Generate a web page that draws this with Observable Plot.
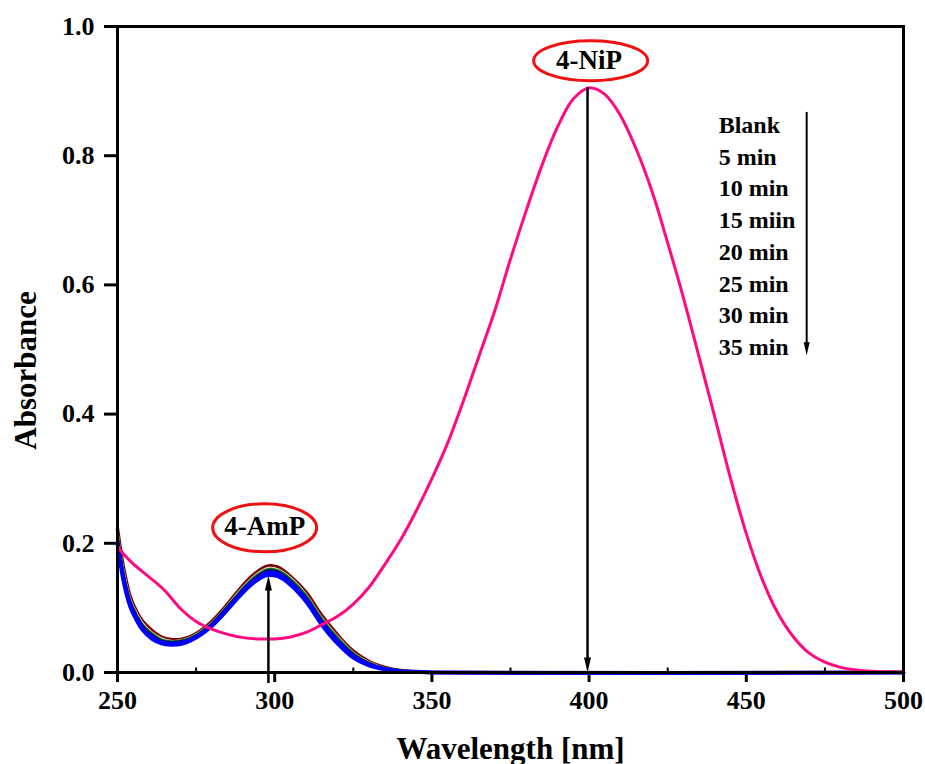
<!DOCTYPE html>
<html>
<head>
<meta charset="utf-8">
<script src="https://cdn.jsdelivr.net/npm/d3@7"></script>
<script src="https://cdn.jsdelivr.net/npm/@observablehq/plot@0.6"></script>
<style>
  html, body { margin: 0; padding: 0; background: #fff; }
</style>
</head>
<body>
<div id="chart"></div>
<script>
// ---------- data ----------
const xTicks = [250, 300, 350, 400, 450, 500];
const xMinorTicks = [275, 325, 375, 425, 475];
const yTicks = [0, 0.2, 0.4, 0.6, 0.8, 1.0];

// Blank (4-nitrophenol) spectrum
const blankWavelength = [250,252,255,260,265,270,275,280,285,290,295,300,305,310,315,320,325,330,335,340,345,350,355,360,365,370,375,380,385,390,395,400,405,410,415,420,425,430,435,440,445,450,455,460,465,470,475,480,485,490,495,500];
const blankAbs = [0.195,0.183,0.168,0.148,0.127,0.099,0.079,0.067,0.059,0.054,0.052,0.052,0.055,0.062,0.074,0.087,0.106,0.132,0.167,0.205,0.250,0.300,0.355,0.420,0.490,0.560,0.640,0.715,0.785,0.845,0.888,0.905,0.895,0.862,0.810,0.745,0.665,0.580,0.488,0.395,0.300,0.215,0.145,0.092,0.055,0.030,0.016,0.008,0.004,0.002,0.001,0.001];

// Reaction-time spectra (4-aminophenol)
const ampWavelength = [250,252,254,256,258,261,264,267,270,273,276,280,284,288,292,296,298,301,305,310,315,320,325,330,335,340,345,350,500];
const amp5  = [0.222,0.160,0.118,0.095,0.079,0.065,0.055,0.051,0.051,0.055,0.063,0.079,0.100,0.124,0.146,0.161,0.165,0.163,0.149,0.124,0.088,0.058,0.033,0.017,0.008,0.003,0.001,0,0];
const amp10 = [0.218,0.156,0.115,0.093,0.077,0.062,0.053,0.049,0.050,0.054,0.062,0.077,0.098,0.122,0.143,0.158,0.162,0.160,0.147,0.121,0.085,0.056,0.031,0.016,0.007,0.003,0.001,0,0];
const amp15 = [0.214,0.152,0.112,0.090,0.074,0.060,0.051,0.048,0.049,0.053,0.061,0.076,0.097,0.120,0.141,0.156,0.160,0.158,0.145,0.119,0.083,0.054,0.030,0.015,0.007,0.003,0.001,0,0];
const amp20 = [0.210,0.149,0.110,0.088,0.072,0.058,0.049,0.047,0.048,0.052,0.060,0.075,0.096,0.118,0.139,0.154,0.158,0.156,0.142,0.116,0.080,0.051,0.028,0.014,0.006,0.002,0.001,0,0];
const amp25 = [0.206,0.146,0.107,0.085,0.069,0.055,0.047,0.045,0.046,0.051,0.059,0.074,0.094,0.116,0.137,0.151,0.155,0.153,0.140,0.114,0.078,0.049,0.026,0.013,0.006,0.002,0.001,0,0];
const amp30 = [0.203,0.143,0.105,0.083,0.067,0.053,0.046,0.044,0.045,0.050,0.058,0.073,0.093,0.115,0.135,0.149,0.153,0.151,0.138,0.112,0.076,0.047,0.024,0.012,0.005,0.002,0.001,0,0];
const amp35 = [0.200,0.140,0.103,0.082,0.066,0.052,0.045,0.043,0.044,0.049,0.057,0.072,0.092,0.114,0.134,0.148,0.151,0.149,0.136,0.110,0.074,0.045,0.023,0.011,0.005,0.002,0.001,0,0];

const seriesNames = ["5 min","10 min","15 min","20 min","25 min","30 min","35 min"];
const seriesValues = [amp5, amp10, amp15, amp20, amp25, amp30, amp35];
const seriesColors = ["#800000","#d8d8d8","#008000","#000080","#0000ff","#0000ff","#0000ff"];
const seriesWidths = [3.5, 2, 2.5, 2.5, 3, 3, 4];

const legendLabels = ["Blank","5 min","10 min","15 miin","20 min","25 min","30 min","35 min"];

// ---------- build tables ----------
const blankData = blankWavelength.map((w, i) => ({w, a: blankAbs[i]}));
const ampData = seriesNames.flatMap((name, s) =>
  ampWavelength.map((w, i) => ({series: name, w, a: seriesValues[s][i]})));

// ---------- helpers (custom symbols) ----------
const ellipseSymbol = (rx, ry) => ({
  draw(ctx) {
    const k = 0.5523;
    ctx.moveTo(rx, 0);
    ctx.bezierCurveTo(rx, ry * k, rx * k, ry, 0, ry);
    ctx.bezierCurveTo(-rx * k, ry, -rx, ry * k, -rx, 0);
    ctx.bezierCurveTo(-rx, -ry * k, -rx * k, -ry, 0, -ry);
    ctx.bezierCurveTo(rx * k, -ry, rx, -ry * k, rx, 0);
    ctx.closePath();
  }
});
const headUp = (w, h) => ({ draw(ctx) { ctx.moveTo(0, 0); ctx.lineTo(-w / 2, h); ctx.lineTo(w / 2, h); ctx.closePath(); } });
const headDown = (w, h) => ({ draw(ctx) { ctx.moveTo(0, 0); ctx.lineTo(-w / 2, -h); ctx.lineTo(w / 2, -h); ctx.closePath(); } });

const FONT = "'Liberation Serif', 'Times New Roman', Times, serif";

const ampMarks = seriesNames.map((name, s) =>
  Plot.line(ampData.filter(d => d.series === name), {
    x: "w", y: "a", stroke: seriesColors[s], strokeWidth: seriesWidths[s], curve: "catmull-rom"
  }));

const chart = Plot.plot({
  width: 925,
  height: 764,
  marginLeft: 117,
  marginRight: 22,
  marginTop: 26,
  marginBottom: 92,
  style: { fontFamily: FONT, fontSize: "22px", fontWeight: "bold", background: "#fff", color: "#000", overflow: "visible" },
  x: { domain: [250, 500] },
  y: { domain: [0, 1] },
  marks: [
    Plot.axisX({ ticks: xTicks, tickSize: 10, tickPadding: 8, strokeWidth: 3, fontSize: 26, label: null }),
    Plot.axisY({ ticks: yTicks, tickSize: 13, tickPadding: 10, strokeWidth: 3, fontSize: 26, tickFormat: d => d.toFixed(1), label: null }),
    Plot.ruleX(xMinorTicks, { y1: 0, y2: 0.007, stroke: "#000", strokeWidth: 2 }),
    // reaction-time curves
    ...ampMarks,
    // Blank
    Plot.line(blankData, { x: "w", y: "a", stroke: "#ff0a82", strokeWidth: 3, curve: "catmull-rom" }),
    // arrows
    Plot.ruleX([298], { y1: -0.017, y2: 0.135, stroke: "#000", strokeWidth: 2.5 }),
    Plot.dot([0], { x: () => 298, y: () => 0.150, symbol: headUp(7, 15), fill: "#000", stroke: "none" }),
    Plot.ruleX([399.5], { y1: 0.905, y2: 0.015, stroke: "#000", strokeWidth: 2.5 }),
    Plot.dot([0], { x: () => 399.5, y: () => 0.0, symbol: headDown(7, 15), fill: "#000", stroke: "none" }),
    // annotation ellipses + labels
    Plot.dot([0], { x: () => 296.8, y: () => 0.224, symbol: ellipseSymbol(52, 24), fill: "#fff", stroke: "#ee1111", strokeWidth: 3 }),
    Plot.text(["4-AmP"], { x: () => 296.8, y: () => 0.226, fontSize: 27, fill: "#000" }),
    Plot.dot([0], { x: () => 400.5, y: () => 0.947, symbol: ellipseSymbol(57, 20), fill: "#fff", stroke: "#ee1111", strokeWidth: 3 }),
    Plot.text(["4-NiP"], { x: () => 400.0, y: () => 0.948, fontSize: 27, fill: "#000" }),
    // legend
    Plot.text(legendLabels, { x: () => 441.2, y: (d, i) => 0.847 - i * 0.0491, textAnchor: "start", fontSize: 24, fill: "#000" }),
    Plot.ruleX([469.2], { y1: 0.867, y2: 0.505, stroke: "#000", strokeWidth: 2 }),
    Plot.dot([0], { x: () => 469.2, y: () => 0.491, symbol: headDown(6, 13), fill: "#000", stroke: "none" }),
    // axis titles
    Plot.text(["Wavelength [nm]"], { x: () => 375, y: () => -0.118, fontSize: 31, fill: "#000" }),
    Plot.text(["Absorbance"], { x: () => 220.8, y: () => 0.4675, rotate: -90, fontSize: 31, fill: "#000" }),
    Plot.frame({ stroke: "#000", strokeWidth: 3 })
  ]
});
document.getElementById("chart").appendChild(chart);
</script>
</body>
</html>
